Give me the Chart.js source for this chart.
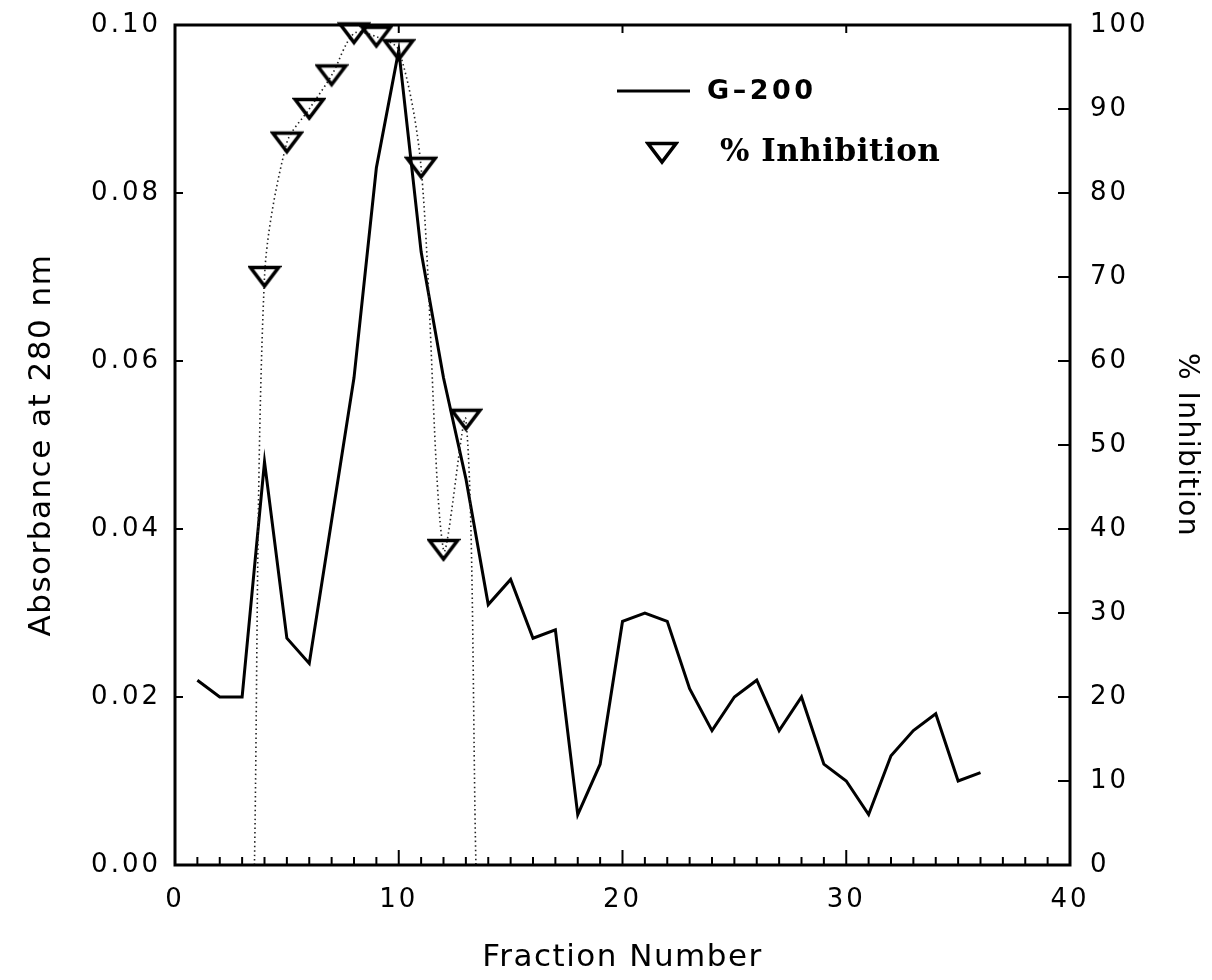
<!DOCTYPE html>
<html>
<head>
<meta charset="utf-8">
<script src="https://cdn.jsdelivr.net/npm/chart.js@4.4.1/dist/chart.umd.min.js"></script>
<style>
html,body{margin:0;padding:0;background:#fff;}
#wrap{width:1212px;height:980px;position:relative;}
</style>
</head>
<body>
<div id="wrap"><canvas id="c"></canvas></div>
<script>
// ---- data ----
const fractions = [1,2,3,4,5,6,7,8,9,10,11,12,13,14,15,16,17,18,19,20,21,22,23,24,25,26,27,28,29,30,31,32,33,34,35,36];
const absorbance = [0.022,0.020,0.020,0.048,0.027,0.024,0.041,0.058,0.083,0.097,0.073,0.058,0.046,0.031,0.034,0.027,0.028,0.006,0.012,0.029,0.030,0.029,0.021,0.016,0.020,0.022,0.016,0.020,0.012,0.010,0.006,0.013,0.016,0.018,0.010,0.011];
const inhibitionFractions = [4,5,6,7,8,9,10,11,12,13];
const inhibitionValues = [70,86,90,94,99,98.6,97,83,37.5,53];
const curveStart = [3.55,0];
const curveEnd = [13.45,0];
const xTickValues = [0,10,20,30,40];
const leftTickValues = [0,0.02,0.04,0.06,0.08,0.10];
const rightTickValues = [0,10,20,30,40,50,60,70,80,90,100];
const legendLabels = ['G\u2013200','% Inhibition'];

// ---- marker ----
function makeTriangle(){
  const c = document.createElement('canvas');
  c.width = 34; c.height = 26;
  const g = c.getContext('2d');
  g.strokeStyle = '#000'; g.lineWidth = 3.5; g.lineJoin = 'miter';
  g.beginPath(); g.moveTo(3,3.5); g.lineTo(31,3.5); g.lineTo(17,22); g.closePath(); g.stroke();
  return c;
}
const tri = makeTriangle();

const lineData = fractions.map((f,i)=>({x:f,y:absorbance[i]}));
const triData = inhibitionFractions.map((f,i)=>({x:f,y:inhibitionValues[i]}));
const curveData = [{x:curveStart[0],y:curveStart[1]}].concat(triData, [{x:curveEnd[0],y:curveEnd[1]}]);

const spacingPlugin = {
  id:'spacing',
  beforeDraw(chart){
    for (const s of Object.values(chart.scales)){
      if (s._sp) continue;
      const dl = s.drawLabels, dt = s.drawTitle;
      s.drawLabels = function(...a){ const c=this.ctx; c.save(); c.letterSpacing='3px'; dl.apply(this,a); c.restore(); };
      s.drawTitle = function(...a){ const c=this.ctx; c.save(); c.letterSpacing='1.5px'; dt.apply(this,a); c.restore(); };
      s._sp = true;
    }
  }
};

function seg(ctx,x1,y1,x2,y2){ ctx.beginPath(); ctx.moveTo(x1,y1); ctx.lineTo(x2,y2); ctx.stroke(); }

const framePlugin = {
  id:'frame',
  afterDraw(chart){
    const {ctx, chartArea:a, scales} = chart;
    ctx.save();
    ctx.strokeStyle = '#000';
    ctx.lineWidth = 2;
    for (let v = scales.x.min; v <= scales.x.max; v += 1){
      const px = scales.x.getPixelForValue(v);
      const len = xTickValues.includes(v) ? 15 : 8;
      seg(ctx, px, a.bottom, px, a.bottom - len);
    }
    xTickValues.forEach(v=>{ const px = scales.x.getPixelForValue(v); seg(ctx, px, a.top, px, a.top + 8); });
    leftTickValues.forEach(v=>{ const py = scales.y.getPixelForValue(v); seg(ctx, a.left, py, a.left + 8, py); });
    rightTickValues.forEach(v=>{ const py = scales.y1.getPixelForValue(v); seg(ctx, a.right, py, a.right - 12, py); });
    ctx.lineWidth = 3;
    ctx.strokeRect(a.left, a.top, a.right - a.left, a.bottom - a.top);
    // legend
    ctx.lineWidth = 3;
    seg(ctx, 617, 91, 690, 91);
    ctx.fillStyle = '#000';
    ctx.textBaseline = 'middle';
    ctx.textAlign = 'left';
    ctx.letterSpacing = '3.5px';
    ctx.font = 'bold 27px "DejaVu Sans"';
    ctx.fillText(legendLabels[0], 707, 92);
    ctx.letterSpacing = '0.5px';
    ctx.drawImage(tri, 662 - tri.width/2, 153 - tri.height/2);
    ctx.font = 'bold 31px "DejaVu Serif"';
    ctx.fillText(legendLabels[1], 720, 153);
    ctx.restore();
  }
};

const tickFont = {family:'DejaVu Sans', size:26};
const titleColor = '#000';
function noVPad(s){ s.paddingTop = 0; s.paddingBottom = 0; }
function noHPad(s){ s.paddingLeft = 0; s.paddingRight = 0; }

new Chart(document.getElementById('c'), {
  type:'line',
  data:{
    datasets:[
      {label:legendLabels[0], data:lineData, xAxisID:'x', yAxisID:'y', borderColor:'#000', borderWidth:3, pointRadius:0, tension:0, fill:false, order:3},
      {label:'curve', data:curveData, xAxisID:'x', yAxisID:'y1', borderColor:'#222', borderWidth:1.6, borderDash:[1.5,3], pointRadius:0, tension:0.3, fill:false, order:2},
      {label:legendLabels[1], data:triData, xAxisID:'x', yAxisID:'y1', showLine:false, pointStyle:tri, pointRadius:12, pointHoverRadius:12, clip:false, order:1}
    ]
  },
  options:{
    responsive:true,
    maintainAspectRatio:false,
    animation:false,
    events:[],
    layout:{padding:{top:25,left:0,right:0,bottom:0}},
    plugins:{legend:{display:false}, tooltip:{enabled:false}},
    scales:{
      x:{
        type:'linear', position:'bottom', min:0, max:40,
        afterBuildTicks:s=>{ s.ticks = xTickValues.map(v=>({value:v})); },
        ticks:{font:tickFont, color:'#000', padding:20, maxRotation:0, autoSkip:false},
        grid:{display:false, drawTicks:false},
        border:{display:false},
        title:{display:true, text:'Fraction Number', color:titleColor, font:{family:'DejaVu Sans', size:31}, padding:{top:0,bottom:3}},
        afterFit:s=>{ s.height = 115; noHPad(s); }
      },
      y:{
        type:'linear', position:'left', min:0, max:0.1,
        afterBuildTicks:s=>{ s.ticks = leftTickValues.map(v=>({value:v})); },
        ticks:{font:tickFont, color:'#000', padding:14, autoSkip:false, callback:v=>v.toFixed(2)},
        grid:{display:false, drawTicks:false},
        border:{display:false},
        title:{display:true, text:'Absorbance at 280 nm', color:titleColor, font:{family:'DejaVu Sans', size:31}, padding:{top:23,bottom:0}},
        afterFit:s=>{ s.width = 175; noVPad(s); }
      },
      y1:{
        type:'linear', position:'right', min:0, max:100,
        afterBuildTicks:s=>{ s.ticks = rightTickValues.map(v=>({value:v})); },
        ticks:{font:tickFont, color:'#000', padding:20, autoSkip:false},
        grid:{display:false, drawTicks:false},
        border:{display:false},
        title:{display:true, text:'% Inhibition', color:titleColor, font:{family:'DejaVu Sans', size:28}, padding:{top:9,bottom:0}},
        afterFit:s=>{ s.width = 142; noVPad(s); }
      }
    }
  },
  plugins:[spacingPlugin, framePlugin]
});
</script>
</body>
</html>
